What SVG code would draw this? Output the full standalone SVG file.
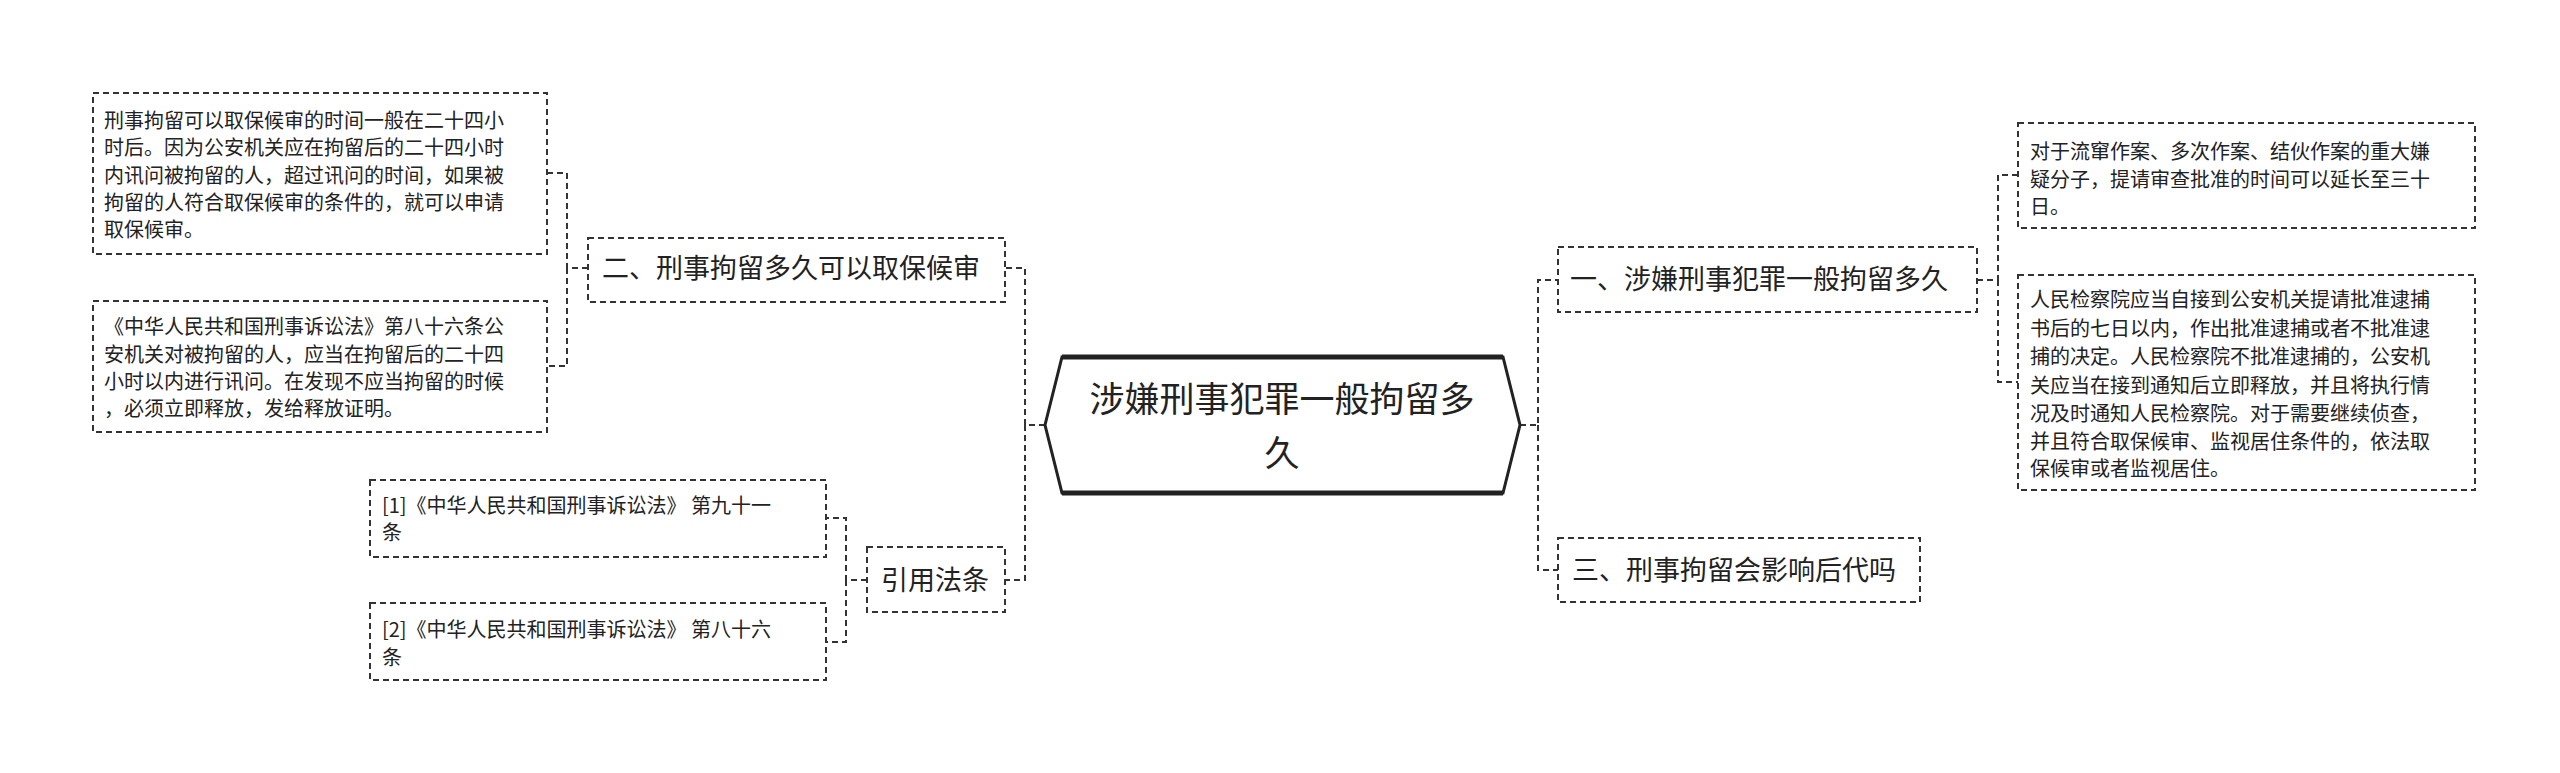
<svg xmlns="http://www.w3.org/2000/svg" width="2560" height="773" viewBox="0 0 2560 773">
<style>
.b{fill:#fff;stroke:#333;stroke-width:2;stroke-dasharray:6,4}
.c{fill:none;stroke:#333;stroke-width:2;stroke-dasharray:6,4}
text{font-family:"Noto Sans CJK SC","Liberation Sans",sans-serif;fill:#222}
.s{font-size:20px}
.m{font-size:27px}
</style>
<rect width="2560" height="773" fill="#fff"/>
<g id="connectors">
<path class="c" d="M1045 425H1025V268H1005M1025 425V580H1005"/>
<path class="c" d="M588 268H567V173H547M567 268V366H547"/>
<path class="c" d="M867 580H846V518H826M846 580V642H826"/>
<path class="c" d="M1520 425H1538V280H1558M1538 425V570H1558"/>
<path class="c" d="M1977 280H1998V175H2018M1998 280V382H2018"/>
</g>
<g id="center">
<path d="M1045 425L1062 357H1503L1520 425L1503 493H1062Z" fill="#fff" stroke="#222" stroke-width="3"/>
<path d="M1062 357H1503M1062 493H1503" stroke="#222" stroke-width="5"/>
<text x="1282" y="412" font-size="35" text-anchor="middle">涉嫌刑事犯罪一般拘留多</text>
<text x="1282" y="466" font-size="35" text-anchor="middle">久</text>
</g>
<g id="n1"><rect class="b" x="1558" y="247" width="419" height="65"/><text class="m" x="1570" y="289">一、涉嫌刑事犯罪一般拘留多久</text></g>
<g id="n2"><rect class="b" x="588" y="238" width="417" height="64"/><text class="m" x="602" y="278">二、刑事拘留多久可以取保候审</text></g>
<g id="n3"><rect class="b" x="1558" y="538" width="362" height="64"/><text class="m" x="1572" y="580">三、刑事拘留会影响后代吗</text></g>
<g id="n4"><rect class="b" x="867" y="547" width="138" height="65"/><text class="m" x="881" y="590">引用法条</text></g>
<g id="a">
<rect class="b" x="93" y="93" width="454" height="161"/>
<text class="s" x="104" y="128">刑事拘留可以取保候审的时间一般在二十四小</text>
<text class="s" x="104" y="155">时后。因为公安机关应在拘留后的二十四小时</text>
<text class="s" x="104" y="183">内讯问被拘留的人，超过讯问的时间，如果被</text>
<text class="s" x="104" y="210">拘留的人符合取保候审的条件的，就可以申请</text>
<text class="s" x="104" y="237">取保候审。</text>
</g>
<g id="b">
<rect class="b" x="93" y="301" width="454" height="131"/>
<text class="s" x="104" y="334">《中华人民共和国刑事诉讼法》第八十六条公</text>
<text class="s" x="104" y="362">安机关对被拘留的人，应当在拘留后的二十四</text>
<text class="s" x="104" y="389">小时以内进行讯问。在发现不应当拘留的时候</text>
<text class="s" x="104" y="416">，必须立即释放，发给释放证明。</text>
</g>
<g id="r1">
<rect class="b" x="370" y="480" width="456" height="77"/>
<text class="s" x="382" y="513">[1]《中华人民共和国刑事诉讼法》 第九十一</text>
<text class="s" x="382" y="540">条</text>
</g>
<g id="r2">
<rect class="b" x="370" y="603" width="456" height="77"/>
<text class="s" x="382" y="637">[2]《中华人民共和国刑事诉讼法》 第八十六</text>
<text class="s" x="382" y="665">条</text>
</g>
<g id="c1">
<rect class="b" x="2018" y="123" width="457" height="105"/>
<text class="s" x="2030" y="159">对于流窜作案、多次作案、结伙作案的重大嫌</text>
<text class="s" x="2030" y="187">疑分子，提请审查批准的时间可以延长至三十</text>
<text class="s" x="2030" y="214">日。</text>
</g>
<g id="c2">
<rect class="b" x="2018" y="275" width="457" height="215"/>
<text class="s" x="2030" y="307">人民检察院应当自接到公安机关提请批准逮捕</text>
<text class="s" x="2030" y="336">书后的七日以内，作出批准逮捕或者不批准逮</text>
<text class="s" x="2030" y="364">捕的决定。人民检察院不批准逮捕的，公安机</text>
<text class="s" x="2030" y="393">关应当在接到通知后立即释放，并且将执行情</text>
<text class="s" x="2030" y="421">况及时通知人民检察院。对于需要继续侦查，</text>
<text class="s" x="2030" y="449">并且符合取保候审、监视居住条件的，依法取</text>
<text class="s" x="2030" y="476">保候审或者监视居住。</text>
</g>
</svg>
